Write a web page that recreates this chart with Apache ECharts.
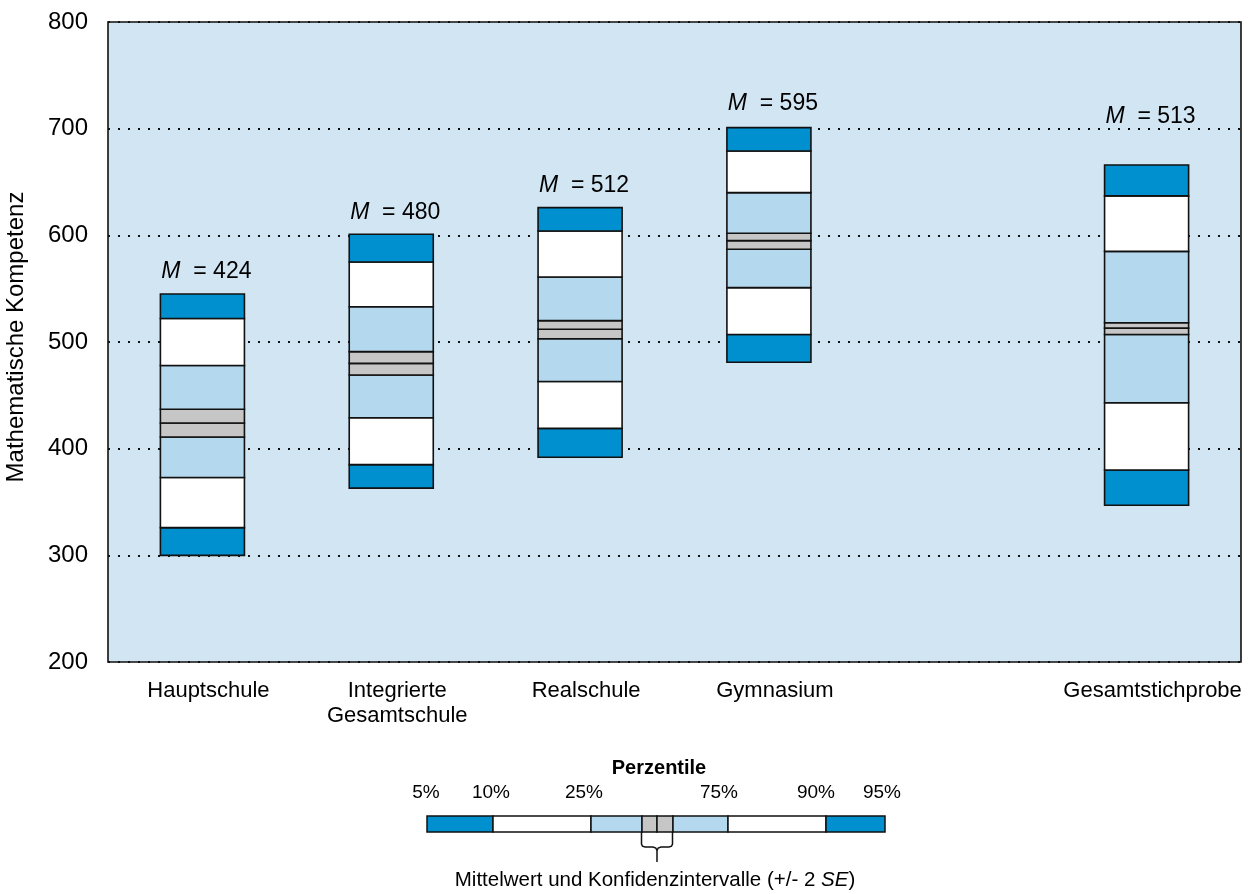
<!DOCTYPE html>
<html>
<head>
<meta charset="utf-8">
<script src="https://cdn.jsdelivr.net/npm/echarts@6/dist/echarts.min.js"></script>
<style>
html,body{margin:0;padding:0;background:#fff;}
#c{width:1252px;height:894px;}
</style>
</head>
<body>
<div id="c"></div>
<script>
// ---- data ----
const categories = ['Hauptschule', 'Integrierte\nGesamtschule', 'Realschule', 'Gymnasium', '', 'Gesamtstichprobe'];
const p5     = [300, 363, 392, 481, null, 347];
const p10    = [326, 385, 419, 507, null, 380];
const p25    = [373, 429, 463, 551, null, 443];
const ciLow  = [411, 469, 503, 587, null, 507];
const mean   = [424, 480, 512, 595, null, 513];
const ciHigh = [437, 491, 520, 602, null, 518];
const p75    = [478, 533, 561, 640, null, 585];
const p90    = [522, 575, 604, 679, null, 637];
const p95    = [545, 601, 626, 701, null, 666];
const yTicks = [200, 300, 400, 500, 600, 700, 800];
const legendPercent = ['5%', '10%', '25%', '75%', '90%', '95%'];

// ---- style ----
const DARK = '#0090CF', LIGHT = '#B4D8EE', GRAY = '#C6C6C6', WHITE = '#FFFFFF', BG = '#D1E5F3';
const FONT = '"Liberation Sans", Arial, sans-serif';
const labelLift = [22, 22, 22, 24, 0, 48];

const seriesData = [];
categories.forEach((c, i) => {
  if (mean[i] == null) return;
  seriesData.push([i, p5[i], p10[i], p25[i], ciLow[i], mean[i], ciHigh[i], p75[i], p90[i], p95[i]]);
});

function renderItem(params, api) {
  const idx = api.value(0);
  const v = [];
  for (let k = 1; k <= 9; k++) v.push(api.value(k));
  const cx = api.coord([idx, v[0]])[0];
  const w = api.size([1, 0])[0] * 0.445;
  const ys = v.map(val => api.coord([idx, val])[1]);
  const fills = [DARK, WHITE, LIGHT, GRAY, GRAY, LIGHT, WHITE, DARK];
  const children = [];
  for (let s = 0; s < 8; s++) {
    children.push({
      type: 'rect',
      shape: { x: cx - w / 2, y: ys[s + 1], width: w, height: ys[s] - ys[s + 1] },
      style: { fill: fills[s], stroke: '#111', lineWidth: 1.6 }
    });
  }
  children.push({
    type: 'text',
    style: {
      text: '{i|M}  = ' + v[4],
      x: cx + 4, y: ys[8] - labelLift[idx],
      align: 'center', verticalAlign: 'middle',
      fill: '#000', font: '23px ' + FONT,
      rich: { i: { fontStyle: 'italic', fontSize: 23, fontFamily: FONT, fill: '#000' } }
    }
  });
  return { type: 'group', children };
}

const chart = echarts.init(document.getElementById('c'), null, { renderer: 'canvas' });
const LY = 816, LH = 16;
const segs = [[427, 493, DARK], [493, 591, WHITE], [591, 642, LIGHT], [642, 657, GRAY], [657, 673, GRAY], [673, 728, LIGHT], [728, 826, WHITE], [826, 885, DARK]];
const legendGraphics = segs.map(s => ({
  type: 'rect', shape: { x: s[0], y: LY, width: s[1] - s[0], height: LH },
  style: { fill: s[2], stroke: '#111', lineWidth: 1.5 }
}));
const pctX = [426, 491, 584, 719, 816, 882];
legendPercent.forEach((t, i) => {
  legendGraphics.push({ type: 'text', style: { text: t, x: pctX[i], y: 793, align: 'center', verticalAlign: 'middle', font: '19px ' + FONT, fill: '#000' } });
});
legendGraphics.push({ type: 'text', style: { text: 'Perzentile', x: 659, y: 768, align: 'center', verticalAlign: 'middle', font: 'bold 20px ' + FONT, fill: '#000' } });
legendGraphics.push({
  type: 'polyline',
  shape: { points: [[641.5, 832], [641.5, 844], [642.5, 846.2], [645, 847], [653, 847], [655.8, 848], [657, 850.5], [657, 862]] },
  style: { fill: null, stroke: '#111', lineWidth: 1.5 }
});
legendGraphics.push({
  type: 'polyline',
  shape: { points: [[672.5, 832], [672.5, 844], [671.5, 846.2], [669, 847], [661, 847], [658.2, 848], [657, 850.5]] },
  style: { fill: null, stroke: '#111', lineWidth: 1.5 }
});
legendGraphics.push({
  type: 'text',
  style: {
    text: 'Mittelwert und Konfidenzintervalle (+/- 2 {i|SE})', x: 655, y: 880, align: 'center', verticalAlign: 'middle',
    font: '20.5px ' + FONT, fill: '#000',
    rich: { i: { fontStyle: 'italic', fontSize: 20.5, fontFamily: FONT, fill: '#000' } }
  }
});

chart.setOption({
  animation: false,
  backgroundColor: '#fff',
  grid: { left: 108, top: 22, right: 11, bottom: 232, show: true, backgroundColor: BG, borderColor: '#111', borderWidth: 1.6, containLabel: false, outerBoundsMode: 'none' },
  xAxis: {
    type: 'category', data: categories,
    axisLine: { show: false }, axisTick: { show: false },
    axisLabel: { color: '#000', fontSize: 22, fontFamily: FONT, margin: 16, lineHeight: 25, interval: 0, padding: [0, 0, 0, 12] }
  },
  yAxis: {
    type: 'value', min: yTicks[0], max: yTicks[yTicks.length - 1], interval: 100,
    name: 'Mathematische Kompetenz', nameLocation: 'middle', nameGap: 80, nameRotate: 90,
    nameTextStyle: { color: '#000', fontSize: 24, fontFamily: FONT, padding: [0, 0, 0, 10] },
    axisLine: { show: false }, axisTick: { show: false },
    axisLabel: { color: '#000', fontSize: 24, fontFamily: FONT, margin: 20 },
    splitLine: { show: true, lineStyle: { color: '#111', width: 2, type: [2, 8] } }
  },
  series: [{
    type: 'custom', renderItem: renderItem, data: seriesData, z: 5,
    encode: { x: 0, y: [1, 2, 3, 4, 5, 6, 7, 8, 9] }, clip: false
  }],
  graphic: legendGraphics
});
</script>
</body>
</html>
